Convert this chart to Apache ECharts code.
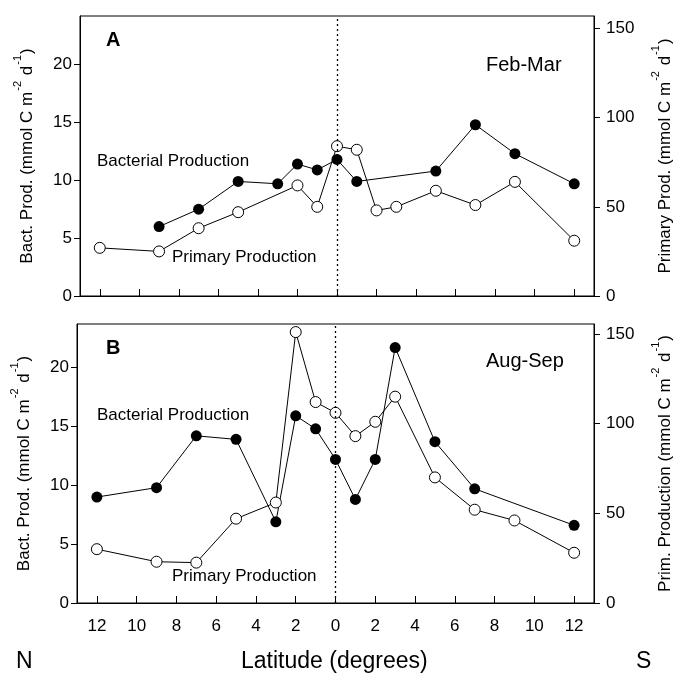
<!DOCTYPE html>
<html>
<head>
<meta charset="utf-8">
<script src="https://cdn.jsdelivr.net/npm/echarts@6/dist/echarts.min.js"></script>
<style>
  html, body { margin: 0; padding: 0; background: #fff; }
  #main { width: 682px; height: 673px; }
</style>
</head>
<body>
<div id="main"></div>
<script>
// Panel A (Feb-Mar)
const latBactA = [-9, -7, -5, -3, -2, -1, 0, 1, 5, 7, 9, 12]
const bactA = [6.0, 7.5, 9.9, 9.7, 11.4, 10.9, 11.8, 9.9, 10.8, 14.8, 12.3, 9.7]
const latPrimA = [-12, -9, -7, -5, -2, -1, 0, 1, 2, 3, 5, 7, 9, 12]
const primA = [27, 25, 38, 47, 62, 50, 84, 82, 48, 50, 59, 51, 64, 31]

// Panel B (Aug-Sep)
const latBactB = [-12, -9, -7, -5, -3, -2, -1, 0, 1, 2, 3, 5, 7, 12]
const bactB = [9.0, 9.8, 14.2, 13.9, 6.9, 15.9, 14.8, 12.2, 8.8, 12.2, 21.7, 13.7, 9.7, 6.6]
const latPrimB = [-12, -9, -7, -5, -3, -2, -1, 0, 1, 2, 3, 5, 7, 9, 12]
const primB = [30, 23, 22.5, 47, 56, 151, 112, 106, 93, 101, 115, 70, 52, 46, 28]

const latTicks = [-12, -10, -8, -6, -4, -2, 0, 2, 4, 6, 8, 10, 12]
const bactTicks = [0, 5, 10, 15, 20]
const primTicks = [0, 50, 100, 150]

const FONT = 'Liberation Sans, Arial, sans-serif'
const black = '#000'

const pairs = (xs, ys) => xs.map((x, i) => [x, ys[i]])

const nameRich = {
  a: { fontSize: 17, fontFamily: FONT, color: black, lineHeight: 24, verticalAlign: 'bottom' },
  s: { fontSize: 11, fontFamily: FONT, color: black, lineHeight: 24, verticalAlign: 'top', padding: [0, 1, 0, 1] }
}

function xAxisFor (grid, showLabels) {
  return {
    type: 'value',
    gridIndex: grid,
    min: -13,
    max: 13,
    axisLine: { onZero: false, lineStyle: { color: black, width: 1 } },
    axisTick: { inside: true, length: 7, customValues: latTicks, lineStyle: { color: black } },
    axisLabel: {
      show: showLabels,
      customValues: latTicks,
      formatter: v => String(Math.abs(v)),
      color: black,
      fontSize: 17,
      fontFamily: FONT,
      margin: 15
    },
    splitLine: { show: false }
  }
}

function leftAxis (grid, max, name) {
  return {
    type: 'value',
    gridIndex: grid,
    position: 'left',
    min: 0,
    max: max,
    name: name,
    nameLocation: 'middle',
    nameRotate: 90,
    nameGap: 44,
    nameTextStyle: { rich: nameRich },
    axisLine: { show: true, onZero: false, lineStyle: { color: black } },
    axisTick: { length: 6, customValues: bactTicks, lineStyle: { color: black } },
    axisLabel: { customValues: bactTicks, color: black, fontSize: 17, fontFamily: FONT, margin: 8 },
    splitLine: { show: false }
  }
}

function rightAxis (grid, max, name) {
  return {
    type: 'value',
    gridIndex: grid,
    position: 'right',
    min: 0,
    max: max,
    name: name,
    nameLocation: 'middle',
    nameRotate: 90,
    nameGap: 56,
    nameTextStyle: { rich: nameRich },
    axisLine: { show: true, onZero: false, lineStyle: { color: black } },
    axisTick: { length: 6, customValues: primTicks, lineStyle: { color: black } },
    axisLabel: { customValues: primTicks, color: black, fontSize: 17, fontFamily: FONT, margin: 12 },
    splitLine: { show: false }
  }
}

function bactSeries (grid, data) {
  return {
    type: 'line',
    xAxisIndex: grid,
    yAxisIndex: grid * 2,
    data: data,
    symbol: 'circle',
    symbolSize: 11,
    lineStyle: { color: black, width: 1 },
    itemStyle: { color: black },
    z: 3,
    markLine: {
      silent: true,
      symbol: 'none',
      label: { show: false },
      lineStyle: { color: black, type: [2, 3], width: 1.3 },
      data: [{ xAxis: 0 }]
    }
  }
}

function primSeries (grid, data) {
  return {
    type: 'line',
    xAxisIndex: grid,
    yAxisIndex: grid * 2 + 1,
    data: data,
    symbol: 'circle',
    symbolSize: 11,
    lineStyle: { color: black, width: 1 },
    itemStyle: { color: '#fff', borderColor: black, borderWidth: 1 },
    z: 4
  }
}

function txt (left, top, text, size, weight) {
  return {
    type: 'text',
    left: left,
    top: top,
    style: { text: text, fontSize: size, fontFamily: FONT, fontWeight: weight || 'normal', fill: black }
  }
}

const chart = echarts.init(document.getElementById('main'))
chart.setOption({
  animation: false,
  backgroundColor: '#fff',
  grid: [
    { left: 80, top: 16, width: 519, height: 280, show: true, borderColor: black, borderWidth: 1 },
    { left: 77, top: 324, width: 520, height: 279, show: true, borderColor: black, borderWidth: 1 }
  ],
  xAxis: [xAxisFor(0, false), xAxisFor(1, true)],
  yAxis: [
    leftAxis(0, 24.2, '{a|Bact. Prod. (mmol C m}{s|-2}{a| d}{s|-1}{a|)}'),
    rightAxis(0, 157, '{a|Primary Prod. (mmol C m}{s|-2}{a| d}{s|-1}{a|)}'),
    leftAxis(1, 23.7, '{a|Bact. Prod. (mmol C m}{s|-2}{a| d}{s|-1}{a|)}'),
    rightAxis(1, 155.5, '{a|Prim. Production (mmol C m}{s|-2}{a| d}{s|-1}{a|)}')
  ],
  graphic: [
    txt(106, 30, 'A', 20, 'bold'),
    txt(486, 55, 'Feb-Mar', 20),
    txt(97, 153, 'Bacterial Production', 17),
    txt(172, 249, 'Primary Production', 17),
    txt(106, 338, 'B', 20, 'bold'),
    txt(486, 351, 'Aug-Sep', 20),
    txt(97, 407, 'Bacterial Production', 17),
    txt(172, 568, 'Primary Production', 17),
    txt(16, 650, 'N', 23),
    txt(241, 650, 'Latitude (degrees)', 23),
    txt(636, 650, 'S', 23)
  ],
  series: [
    bactSeries(0, pairs(latBactA, bactA)),
    primSeries(0, pairs(latPrimA, primA)),
    bactSeries(1, pairs(latBactB, bactB)),
    primSeries(1, pairs(latPrimB, primB))
  ]
})
</script>
</body>
</html>
